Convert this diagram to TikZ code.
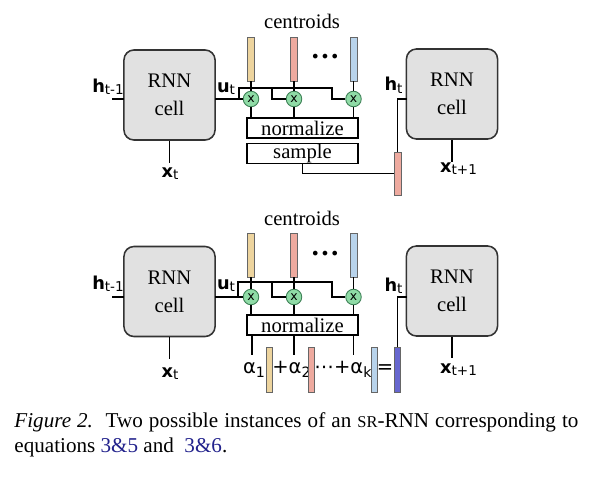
\documentclass[tikz,border=0pt]{standalone}
\usepackage{xcolor}
\usepackage{fontspec}
\setmainfont{Liberation Serif}
\newfontfamily\lblfont{DejaVu Sans}
\usepackage{tikz}
\definecolor{cellgray}{HTML}{E1E1E1}
\definecolor{multgreen}{HTML}{8FDBA6}
\definecolor{multedge}{HTML}{3C7F55}
\definecolor{ctan}{HTML}{EDD49E}
\definecolor{csalmon}{HTML}{EEAA9F}
\definecolor{cblue}{HTML}{B8D3EB}
\definecolor{cresult}{HTML}{6767CF}
\definecolor{capblue}{HTML}{22228C}
\newcommand\vlab[2]{{\lblfont\fontsize{8}{8}\selectfont\bfseries #1}\raisebox{-1.3pt}{\lblfont\fontsize{6.1}{6}\selectfont #2}}
\newcommand\asub[1]{\raisebox{-1.8pt}{\fontsize{6.4}{7}\selectfont #1}}
\tikzset{
  cellbox/.style={draw=black!80, line width=0.7pt, fill=cellgray, rounded corners=4.5pt, minimum width=41pt, minimum height=40.5pt, align=center, font=\fontsize{9.3}{12.6}\selectfont},
  mult/.style={circle, draw=multedge, fill=multgreen, line width=0.4pt, minimum size=7pt, inner sep=0pt, font=\lblfont\fontsize{5.6}{5.6}\selectfont},
  vecbar/.style={draw=black!60, line width=0.3pt, minimum width=3.1pt, minimum height=19.8pt, inner sep=0pt},
  opbox/.style={draw, line width=0.6pt, minimum width=50pt, minimum height=9pt, inner sep=0pt, font=\fontsize{9.3}{10}\selectfont},
  wire/.style={line width=0.6pt},
  vlabel/.style={anchor=base, inner sep=0pt},
  arow/.style={anchor=base, inner sep=0pt, font=\lblfont\fontsize{8.8}{9}\selectfont},
}

\begin{document}
\begin{tikzpicture}[x=0.45pt, y=-0.45pt]%
\useasboundingbox (0,0) rectangle (599,486);%
% top: sampling
\node[cellbox] (cellA) at (169.5,95) {RNN\\cell};%
\node[cellbox] (cellB) at (452,94) {RNN\\cell};%
\node[anchor=base, font=\fontsize{9.3}{10}\selectfont] (centA) at (302,29) {centroids};%
\node[font=\fontsize{13}{13}\selectfont] (dotsA) at (325,57) {\textbf{\dots}};%
\node[vecbar, fill=ctan] (cA1) at (251,59) {};%
\node[vecbar, fill=csalmon] (cA2) at (294,59) {};%
\node[vecbar, fill=cblue] (cA3) at (353.5,59) {};%
\node[mult] (mA1) at (251,99) {x};%
\node[mult] (mA2) at (294,99) {x};%
\node[mult] (mA3) at (353.5,99) {x};%
\node[opbox] (normA) at (302.5,128) {normalize};%
\node[opbox] (smpA) at (302.5,153.5) {sample};%
\node[vecbar, fill=csalmon, minimum height=19.35pt] (sbar) at (397.5,173.5) {};%
\node[vlabel] (hprevA) at (108,92) {\vlab{h}{t-1}};%
\node[vlabel] (uA) at (226,92) {\vlab{u}{t}};%
\node[vlabel] (xlabA) at (170,177) {\vlab{x}{t}};%
\node[vlabel] (hA) at (393.5,91) {\vlab{h}{t}};%
\node[vlabel] (xlabB) at (458.5,172) {\vlab{x}{t+1}};%
\coordinate (hinA) at (124,99);%
\coordinate (hendA) at (112,99);%
\coordinate (uoutA) at (215,99);%
\coordinate (tapA) at (239,99);%
\coordinate (busA) at (239,88);%
\coordinate (dropA2) at (272,88);%
\coordinate (dropA3) at (332,88);%
\coordinate (hinB) at (407,99);%
\coordinate (xinA) at (169.5,163);%
\coordinate (xinB) at (452,162);%
\draw[wire] (hendA) -- (hinA);%
\draw[wire] (cellA.south) -- (xinA);%
\draw[wire] (cellB.south) -- (xinB);%
\draw[wire] (uoutA) -- (mA1.west);%
\draw[wire] (tapA) -- (busA) -- (dropA3) |- (mA3.west);%
\draw[wire] (dropA2) |- (mA2.west);%
\draw[wire] (cA1.south) -- (mA1.north);%
\draw[wire] (cA2.south) -- (mA2.north);%
\draw[wire] (cA3.south) -- (mA3.north);%
\draw[wire] (mA1.south) -- (mA1 |- normA.north);%
\draw[wire] (mA2.south) -- (mA2 |- normA.north);%
\draw[wire] (mA3.south) -- (mA3 |- normA.north);%
\draw[wire] (smpA.south) |- (sbar.west);%
\draw[wire] (sbar.north) |- (hinB);%
% bottom: weighted sum
\node[cellbox] (cellC) at (169.5,291.5) {RNN\\cell};%
\node[cellbox] (cellD) at (452,291) {RNN\\cell};%
\node[anchor=base, font=\fontsize{9.3}{10}\selectfont] (centB) at (302,225) {centroids};%
\node[font=\fontsize{13}{13}\selectfont] (dotsB) at (325,254) {\textbf{\dots}};%
\node[vecbar, fill=ctan] (cB1) at (251,255) {};%
\node[vecbar, fill=csalmon] (cB2) at (294,255) {};%
\node[vecbar, fill=cblue] (cB3) at (353.5,255) {};%
\node[mult] (mB1) at (251,297) {x};%
\node[mult] (mB2) at (294,297) {x};%
\node[mult] (mB3) at (353.5,297) {x};%
\node[opbox] (normB) at (302.5,325) {normalize};%
\node[arow] (al1) at (254,373) {α\asub{1}};%
\node[vecbar, fill=ctan, minimum width=2.7pt, minimum height=20.25pt] (aB1) at (269.5,369.5) {};%
\node[arow] (al2) at (291.5,373) {+α\asub{2}};%
\node[vecbar, fill=csalmon, minimum width=2.7pt, minimum height=20.25pt] (aB2) at (311,369.5) {};%
\node[arow] (al3) at (343,373) {⋯+α\asub{k}};%
\node[vecbar, fill=cblue, minimum width=2.7pt, minimum height=20.25pt] (aB3) at (374.5,369.5) {};%
\node[arow] (eqB) at (385,373) {=};%
\node[vecbar, fill=cresult, minimum width=2.7pt, minimum height=20.25pt] (rbar) at (397.5,369.5) {};%
\node[vlabel] (hprevC) at (108,289) {\vlab{h}{t-1}};%
\node[vlabel] (uC) at (226,289) {\vlab{u}{t}};%
\node[vlabel] (xlabC) at (170,377) {\vlab{x}{t}};%
\node[vlabel] (hD) at (393.5,291) {\vlab{h}{t}};%
\node[vlabel] (xlabD) at (458.5,373) {\vlab{x}{t+1}};%
\coordinate (hinC) at (124,297);%
\coordinate (hendC) at (112,297);%
\coordinate (uoutC) at (215,297);%
\coordinate (tapC) at (238,297);%
\coordinate (busC) at (238,282);%
\coordinate (dropC2) at (272,282);%
\coordinate (dropC3) at (332,282);%
\coordinate (hinD) at (407,297);%
\coordinate (xinC) at (169.5,359);%
\coordinate (xinD) at (452,358);%
\coordinate (aT1) at (252,355);%
\coordinate (aT2) at (294,355);%
\coordinate (aT3) at (353.5,355);%
\draw[wire] (hendC) -- (hinC);%
\draw[wire] (cellC.south) -- (xinC);%
\draw[wire] (cellD.south) -- (xinD);%
\draw[wire] (uoutC) -- (mB1.west);%
\draw[wire] (tapC) -- (busC) -- (dropC3) |- (mB3.west);%
\draw[wire] (dropC2) |- (mB2.west);%
\draw[wire] (cB1.south) -- (mB1.north);%
\draw[wire] (cB2.south) -- (mB2.north);%
\draw[wire] (cB3.south) -- (mB3.north);%
\draw[wire] (mB1.south) -- (mB1 |- normB.north);%
\draw[wire] (mB2.south) -- (mB2 |- normB.north);%
\draw[wire] (mB3.south) -- (mB3 |- normB.north);%
\draw[wire] (aT1 |- normB.south) -- (aT1);%
\draw[wire] (aT2 |- normB.south) -- (aT2);%
\draw[wire] (aT3 |- normB.south) -- (aT3);%
\draw[wire] (rbar.north) |- (hinD);%
% caption
\node[anchor=base west, inner sep=0pt, font=\fontsize{9.5}{11}\selectfont] (capA) at (14,427) {\makebox[253.8pt][s]{\textit{Figure 2.}\hspace{0.6em}Two possible instances of an {\fontsize{7.4}{9}\selectfont SR}-RNN corresponding to}};%
\node[anchor=base west, inner sep=0pt, font=\fontsize{9.5}{11}\selectfont] (capB) at (14,452) {equations \textcolor{capblue}{3\&5} and\ \ \textcolor{capblue}{3\&6}.};%
\end{tikzpicture}
\end{document}
